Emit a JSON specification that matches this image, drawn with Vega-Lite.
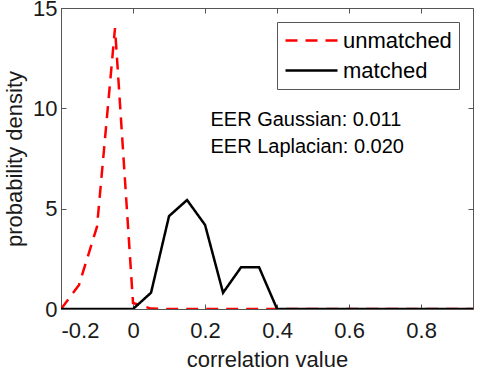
{
  "$schema": "https://vega.github.io/schema/vega-lite/v6.json",
  "width": 412,
  "height": 301,
  "autosize": "none",
  "padding": {"left": 61, "top": 8, "right": 5, "bottom": 65},
  "config": {
    "font": "Liberation Sans",
    "view": {"stroke": "#555555", "strokeWidth": 1},
    "axis": {"grid": false, "domainColor": "#555555", "tickColor": "#555555", "labelColor": "#1a1a1a", "titleColor": "#1a1a1a", "labelFontSize": 22, "titleFontSize": 22, "titleFontWeight": "normal", "tickSize": -5}
  },
  "datasets": {
    "curves": [
      {"x": -0.2, "density": 0, "series": "unmatched"},
      {"x": -0.15, "density": 1.2, "series": "unmatched"},
      {"x": -0.1, "density": 4.1, "series": "unmatched"},
      {"x": -0.05, "density": 14.0, "series": "unmatched"},
      {"x": 0.0, "density": 0.3, "series": "unmatched"},
      {"x": 0.05, "density": 0.02, "series": "unmatched"},
      {"x": 0.1, "density": 0, "series": "unmatched"},
      {"x": 0.15, "density": 0, "series": "unmatched"},
      {"x": 0.2, "density": 0, "series": "unmatched"},
      {"x": 0.25, "density": 0, "series": "unmatched"},
      {"x": 0.3, "density": 0, "series": "unmatched"},
      {"x": 0.35, "density": 0, "series": "unmatched"},
      {"x": 0.4, "density": 0, "series": "unmatched"},
      {"x": 0.45, "density": 0, "series": "unmatched"},
      {"x": 0.5, "density": 0, "series": "unmatched"},
      {"x": 0.55, "density": 0, "series": "unmatched"},
      {"x": 0.6, "density": 0, "series": "unmatched"},
      {"x": 0.65, "density": 0, "series": "unmatched"},
      {"x": 0.7, "density": 0, "series": "unmatched"},
      {"x": 0.75, "density": 0, "series": "unmatched"},
      {"x": 0.8, "density": 0, "series": "unmatched"},
      {"x": 0.85, "density": 0, "series": "unmatched"},
      {"x": 0.9, "density": 0, "series": "unmatched"},
      {"x": 0.95, "density": 0, "series": "unmatched"},
      {"x": -0.2, "density": 0, "series": "matched"},
      {"x": -0.15, "density": 0, "series": "matched"},
      {"x": -0.1, "density": 0, "series": "matched"},
      {"x": -0.05, "density": 0, "series": "matched"},
      {"x": 0.0, "density": 0, "series": "matched"},
      {"x": 0.05, "density": 0.81, "series": "matched"},
      {"x": 0.1, "density": 4.63, "series": "matched"},
      {"x": 0.15, "density": 5.43, "series": "matched"},
      {"x": 0.2, "density": 4.19, "series": "matched"},
      {"x": 0.25, "density": 0.81, "series": "matched"},
      {"x": 0.3, "density": 2.08, "series": "matched"},
      {"x": 0.35, "density": 2.08, "series": "matched"},
      {"x": 0.4, "density": 0, "series": "matched"},
      {"x": 0.45, "density": 0, "series": "matched"},
      {"x": 0.5, "density": 0, "series": "matched"},
      {"x": 0.55, "density": 0, "series": "matched"},
      {"x": 0.6, "density": 0, "series": "matched"},
      {"x": 0.65, "density": 0, "series": "matched"},
      {"x": 0.7, "density": 0, "series": "matched"},
      {"x": 0.75, "density": 0, "series": "matched"},
      {"x": 0.8, "density": 0, "series": "matched"},
      {"x": 0.85, "density": 0, "series": "matched"},
      {"x": 0.9, "density": 0, "series": "matched"},
      {"x": 0.95, "density": 0, "series": "matched"}
    ],
    "notes": [
      {"x": 0.215, "y": 9.42, "label": "EER Gaussian: 0.011"},
      {"x": 0.215, "y": 8.07, "label": "EER Laplacian: 0.020"}
    ]
  },
  "layer": [
    {
      "data": {"name": "curves"},
      "mark": {"type": "line", "strokeWidth": 2.5, "clip": true},
      "encoding": {
        "x": {"field": "x", "type": "quantitative", "scale": {"domain": [-0.2, 0.944], "nice": false, "zero": false},
          "axis": {"orient": "bottom", "title": "correlation value", "values": [-0.2, 0, 0.2, 0.4, 0.6, 0.8], "labelExpr": "datum.value < 0 ? '-' + format(-datum.value, '.1f') : (datum.value == 0 ? '0' : format(datum.value, '.1f'))", "labelPadding": 16, "titlePadding": 8}},
        "y": {"field": "density", "type": "quantitative", "scale": {"domain": [0, 15], "nice": false},
          "axis": {"orient": "left", "title": "probability density", "values": [0, 5, 10, 15], "labelPadding": 9, "titlePadding": 6}},
        "color": {"field": "series", "type": "nominal", "sort": ["unmatched", "matched"],
          "scale": {"domain": ["unmatched", "matched"], "range": ["#ff0000", "#000000"]},
          "legend": {"title": null, "orient": "none", "legendX": 216, "legendY": 14, "strokeColor": "#555555", "fillColor": "#ffffff", "padding": 7, "symbolType": "M-1,0H4.2", "symbolSize": 400, "symbolStrokeWidth": 2.5, "labelFontSize": 22, "labelColor": "#000000", "labelOffset": 36, "rowPadding": 7}},
        "strokeDash": {"field": "series", "type": "nominal", "sort": ["unmatched", "matched"],
          "scale": {"domain": ["unmatched", "matched"], "range": [[12, 8], [1, 0]]}, "legend": null},
        "order": {"field": "series", "sort": "descending"}
      }
    },
    {
      "data": {"name": "notes"},
      "mark": {"type": "text", "align": "left", "baseline": "middle", "fontSize": 20, "color": "#000000"},
      "encoding": {
        "x": {"field": "x", "type": "quantitative", "axis": {"orient": "top", "labels": false, "title": null, "domain": false, "values": [-0.2, 0, 0.2, 0.4, 0.6, 0.8]}},
        "y": {"field": "y", "type": "quantitative", "axis": {"orient": "right", "labels": false, "title": null, "domain": false, "values": [0, 5, 10, 15]}},
        "text": {"field": "label"}
      }
    }
  ],
  "resolve": {"axis": {"x": "independent", "y": "independent"}}
}
